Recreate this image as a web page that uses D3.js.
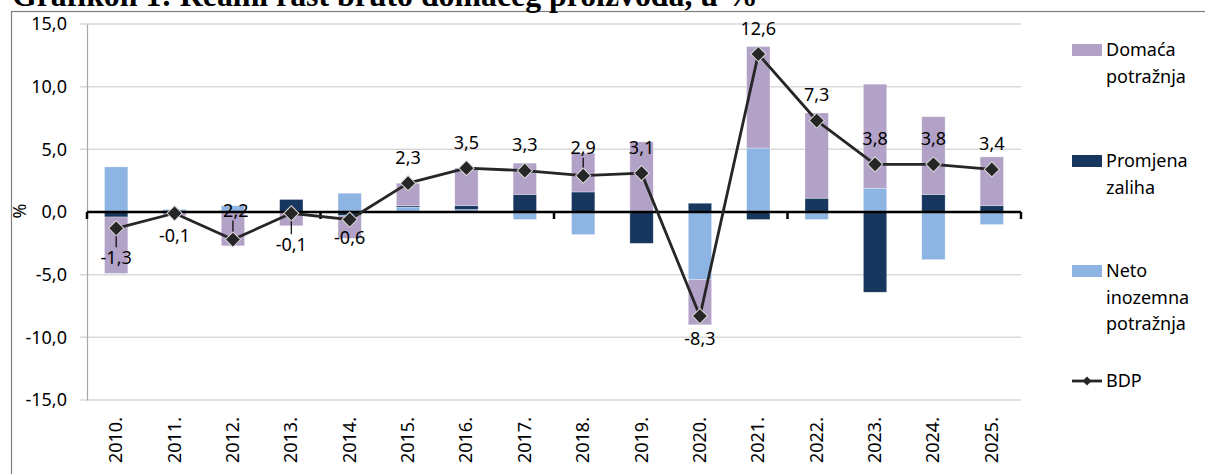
<!DOCTYPE html>
<html>
<head>
<meta charset="utf-8">
<script src="https://cdn.jsdelivr.net/npm/d3@7"></script>
<style>
    body { margin: 0; background: #fff; }
    svg text { font-family: "Noto Sans", "Open Sans", sans-serif; fill: #000; }
</style>
</head>
<body>
<div id="chart"></div>
<script>
// podaci ocitani s grafikona (postotni bodovi)
var years = ["2010.", "2011.", "2012.", "2013.", "2014.", "2015.", "2016.", "2017.",
             "2018.", "2019.", "2020.", "2021.", "2022.", "2023.", "2024.", "2025."];
var domaca  = [-4.5, -0.3, -2.7, -1.1, -1.8, 1.8, 3.0, 2.5, 3.1, 5.6, -3.6, 8.1, 6.8, 8.3, 6.2, 3.9];
var zalihe  = [-0.4, 0.0, 0.0, 1.0, -0.3, 0.1, 0.3, 1.4, 1.6, -2.5, 0.7, -0.6, 1.1, -6.4, 1.4, 0.5];
var neto    = [3.6, 0.2, 0.5, 0.0, 1.5, 0.4, 0.2, -0.6, -1.8, 0.0, -5.4, 5.1, -0.6, 1.9, -3.8, -1.0];
var bdp     = [-1.3, -0.1, -2.2, -0.1, -0.6, 2.3, 3.5, 3.3, 2.9, 3.1, -8.3, 12.6, 7.3, 3.8, 3.8, 3.4];
var yTicks  = [-15, -10, -5, 0, 5, 10, 15];

var seriesKeys   = ["neto", "zalihe", "domaca"];   // redoslijed slaganja od nule
var seriesNames  = {domaca: ["Domaća", "potražnja"], zalihe: ["Promjena", "zaliha"],
                    neto: ["Neto", "inozemna", "potražnja"]};
var seriesColors = {domaca: "#b3a2c7", zalihe: "#17375e", neto: "#8eb4e3"};

var fmt = d3.formatLocale({decimal: ",", thousands: ".", grouping: [3], currency: ["", ""], minus: "-"}).format(".1f");


GrowthVis = function(_parentElement)
{
    this.parentElement = _parentElement;
    this.width = 1205;
    this.height = 474;
    this.plot = {left: 87, right: 1021, top: 24, bottom: 400};

    this.rows = years.map(function(y, i) {
        return {year: y, domaca: domaca[i], zalihe: zalihe[i], neto: neto[i], bdp: bdp[i]};
    });

    this.initVis();
}


GrowthVis.prototype.initVis = function()
{
    var that = this;
    var p = this.plot;

    this.svg = this.parentElement.append("svg")
        .attr("width", this.width)
        .attr("height", this.height);

    // okvir i naslov (odrezan na vrhu kao u izvorniku)
    this.svg.append("rect")
        .attr("x", 11.5).attr("y", 11.5)
        .attr("width", 1200).attr("height", 500)
        .attr("fill", "none")
        .attr("stroke", "#7f7f7f")
        .attr("stroke-width", 1.2);

    var title = this.svg.append("text")
        .attr("x", 12)
        .attr("y", 5.5)
        .style("font-family", "'Liberation Serif', 'Times New Roman', serif")
        .style("font-weight", "bold")
        .style("font-size", "24px")
        .text("Grafikon 1: Realni rast bruto domaćeg proizvoda, u %");
    var tw = title.node().getComputedTextLength();
    title.style("font-size", (24 * 746 / tw) + "px");

    this.x = d3.scaleBand()
        .domain(years)
        .range([p.left, p.right])
        .paddingInner(0.6)
        .paddingOuter(0.3);

    this.y = d3.scaleLinear()
        .domain([-15, 15])
        .range([p.bottom, p.top]);

    var x = this.x, y = this.y;
    var step = x.step();

    // mreza
    this.svg.append("g")
        .selectAll("line")
        .data(yTicks.filter(function(d) { return d !== 0; }))
        .enter()
        .append("line")
            .attr("x1", p.left - 7)
            .attr("x2", p.right)
            .attr("y1", function(d) { return y(d); })
            .attr("y2", function(d) { return y(d); })
            .attr("stroke", "#d9d9d9")
            .attr("stroke-width", 1.5);

    // y os
    var yAxis = d3.axisLeft(y)
        .tickValues(yTicks)
        .tickSize(0)
        .tickPadding(20)
        .tickFormat(fmt);
    var gy = this.svg.append("g")
        .attr("transform", "translate(" + p.left + ",0)")
        .call(yAxis);
    gy.select(".domain").attr("stroke", "#a6a6a6").attr("stroke-width", 1.2);
    gy.selectAll(".tick text").style("font-size", "18px").attr("fill", "#000");

    this.svg.append("text")
        .attr("transform", "translate(26,211) rotate(-90)")
        .style("text-anchor", "middle")
        .style("font-size", "18px")
        .text("%");

    // slozeni stupci
    var stack = d3.stack()
        .keys(seriesKeys)
        .offset(d3.stackOffsetDiverging);
    var layers = stack(this.rows);

    this.svg.append("g")
        .selectAll("g")
        .data(layers)
        .enter()
        .append("g")
            .attr("fill", function(d) { return seriesColors[d.key]; })
        .selectAll("rect")
        .data(function(d) { return d; })
        .enter()
        .append("rect")
            .attr("x", function(d) { return x(d.data.year); })
            .attr("width", x.bandwidth())
            .attr("y", function(d) { return y(Math.max(d[0], d[1])); })
            .attr("height", function(d) { return Math.abs(y(d[0]) - y(d[1])); })
            .attr("stroke", "rgba(255,255,255,0.5)")
            .attr("stroke-width", 0.6);

    // os x (nula) s oznakama svake 4 kategorije
    this.svg.append("line")
        .attr("x1", p.left).attr("x2", p.right)
        .attr("y1", y(0)).attr("y2", y(0))
        .attr("stroke", "#000")
        .attr("stroke-width", 2.5);

    this.svg.append("g")
        .selectAll("line")
        .data(d3.range(0, years.length + 1, 4))
        .enter()
        .append("line")
            .attr("x1", function(i) { return p.left + i * step; })
            .attr("x2", function(i) { return p.left + i * step; })
            .attr("y1", y(0))
            .attr("y2", y(0) + 7)
            .attr("stroke", "#000")
            .attr("stroke-width", 2.5);

    // oznake godina
    this.svg.append("g")
        .selectAll("text")
        .data(years)
        .enter()
        .append("text")
            .attr("transform", function(d) {
                return "translate(" + (x(d) + x.bandwidth() / 2 + 6) + "," + (p.bottom + 17) + ") rotate(-90)";
            })
            .style("text-anchor", "end")
            .style("font-size", "18px")
            .text(function(d) { return d; });

    // linija BDP
    var cx = function(d) { return x(d.year) + x.bandwidth() / 2; };
    var line = d3.line()
        .x(cx)
        .y(function(d) { return y(d.bdp); });

    this.svg.append("path")
        .datum(this.rows)
        .attr("d", line)
        .attr("fill", "none")
        .attr("stroke", "#262626")
        .attr("stroke-width", 2.8)
        .attr("stroke-linejoin", "round");

    // oznake vrijednosti; neke su pomaknute rucno (s linijom vodilicom)
    var moved = {"2010.": 29, "2012.": -29, "2013.": 31, "2014.": 18, "2018.": -28};
    var leaders = ["2010.", "2012.", "2013.", "2018."];
    var labelY = function(d) {
        if (moved[d.year] !== undefined) return y(d.bdp) + moved[d.year];
        return y(d.bdp) + (d.bdp < 0 ? 22 : -26);
    };

    this.svg.append("g")
        .selectAll("line")
        .data(this.rows.filter(function(d) { return leaders.indexOf(d.year) >= 0; }))
        .enter()
        .append("line")
            .attr("x1", cx)
            .attr("x2", cx)
            .attr("y1", function(d) { var s = labelY(d) > y(d.bdp) ? 1 : -1; return y(d.bdp) + s * 4; })
            .attr("y2", function(d) { var s = labelY(d) > y(d.bdp) ? 1 : -1; return labelY(d) - s * 10; })
            .attr("stroke", "#000")
            .attr("stroke-width", 1.2);

    var diamond = d3.symbol().type(d3.symbolSquare).size(115);
    this.svg.append("g")
        .selectAll("path")
        .data(this.rows)
        .enter()
        .append("path")
            .attr("d", diamond)
            .attr("transform", function(d) { return "translate(" + cx(d) + "," + y(d.bdp) + ") rotate(45)"; })
            .attr("fill", "#262626")
            .attr("stroke", "#d9d9d9")
            .attr("stroke-width", 1);

    this.svg.append("g")
        .selectAll("text")
        .data(this.rows)
        .enter()
        .append("text")
            .attr("x", cx)
            .attr("y", labelY)
            .attr("dy", "0.36em")
            .style("text-anchor", "middle")
            .style("font-size", "18px")
            .text(function(d) { return fmt(d.bdp); });

    this.drawLegend();
}


GrowthVis.prototype.drawLegend = function()
{
    var lx = 1072;
    var legend = this.svg.append("g").attr("id", "legend");
    var rowsY = {domaca: 50, zalihe: 161, neto: 271};

    ["domaca", "zalihe", "neto"].forEach(function(k) {
        legend.append("rect")
            .attr("x", lx).attr("y", rowsY[k] - 6)
            .attr("width", 30).attr("height", 12)
            .attr("fill", seriesColors[k]);
        seriesNames[k].forEach(function(t, j) {
            legend.append("text")
                .attr("x", lx + 34)
                .attr("y", rowsY[k] + j * 26.5)
                .attr("dy", "0.36em")
                .style("font-size", "18px")
                .text(t);
        });
    });

    var by = 381;
    legend.append("line")
        .attr("x1", lx).attr("x2", lx + 30)
        .attr("y1", by).attr("y2", by)
        .attr("stroke", "#262626")
        .attr("stroke-width", 2.8);
    legend.append("path")
        .attr("d", d3.symbol().type(d3.symbolSquare).size(40))
        .attr("transform", "translate(" + (lx + 15) + "," + by + ") rotate(45)")
        .attr("fill", "#262626");
    legend.append("text")
        .attr("x", lx + 34)
        .attr("y", by)
        .attr("dy", "0.36em")
        .style("font-size", "18px")
        .text("BDP");
}


var growthVis = new GrowthVis(d3.select("#chart"));
</script>
</body>
</html>
